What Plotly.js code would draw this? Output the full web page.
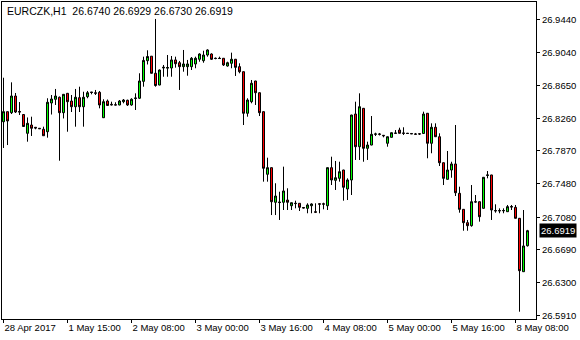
<!DOCTYPE html>
<html><head><meta charset="utf-8">
<script src="https://cdn.plot.ly/plotly-3.0.1.min.js"></script>
<style>html,body{margin:0;padding:0;background:#fff;}#chart{width:580px;height:340px;}</style>
</head><body><div id="chart"></div>
<script>
const symbol = "EURCZK,H1";
const openP = [
26.8219,26.8339,26.8327,26.8526,26.8341,26.8305,26.8081,26.8180,26.8153,26.8141,
26.8129,26.8100,26.8443,26.8487,26.8511,26.8327,26.8558,26.8466,26.8398,26.8506,
26.8398,26.8518,26.8574,26.8564,26.8570,26.8267,26.8466,26.8427,26.8421,26.8419,
26.8458,26.8475,26.8419,26.8496,26.8499,26.8701,26.8947,26.9001,26.8797,26.8657,
26.8860,26.8858,26.8860,26.8956,26.8923,26.8876,26.8876,26.8876,26.8908,26.8964,
26.8947,26.9015,26.9027,26.8977,26.8976,26.8976,26.8884,26.8916,26.8964,26.8876,
26.8816,26.8320,26.8458,26.8705,26.8565,26.8339,26.7592,26.7671,26.7258,26.7262,
26.7258,26.7285,26.7217,26.7247,26.7246,26.7196,26.7186,26.7217,26.7145,26.7240,
26.7240,26.7217,26.7671,26.7520,26.7544,26.7643,26.7417,26.7524,26.8311,26.7921,
26.8379,26.7902,26.7941,26.8069,26.8073,26.8057,26.7962,26.8033,26.8085,26.8120,
26.8085,26.8082,26.8079,26.8073,26.8075,26.8079,26.8320,26.7962,26.8153,26.8040,
26.7730,26.7532,26.7643,26.7715,26.7365,26.7174,26.7015,26.6979,26.7264,26.7265,
26.7186,26.7578,26.7584,26.7160,26.7160,26.7156,26.7146,26.7208,26.7198,26.7067,
26.6430,26.6740];
const highP = [
26.8744,26.8339,26.8689,26.8562,26.8454,26.8311,26.8270,26.8279,26.8156,26.8144,
26.8160,26.8499,26.8538,26.8610,26.8520,26.8550,26.8562,26.8538,26.8610,26.8637,
26.8577,26.8586,26.8574,26.8598,26.8586,26.8487,26.8484,26.8458,26.8451,26.8478,
26.8490,26.8482,26.8499,26.8558,26.8797,26.8995,26.9071,26.9003,26.9445,26.8842,
26.8896,26.9015,26.9003,26.8995,26.8944,26.9075,26.8956,26.8991,26.8995,26.9035,
26.9066,26.9083,26.9035,26.8985,26.8995,26.8979,26.8935,26.9043,26.8968,26.8916,
26.8818,26.8499,26.8717,26.8707,26.8568,26.8341,26.7790,26.7673,26.7485,26.7384,
26.7683,26.7425,26.7255,26.7277,26.7249,26.7198,26.7246,26.7246,26.7246,26.7246,
26.7253,26.7673,26.7802,26.7751,26.7742,26.7646,26.7544,26.8302,26.8458,26.8558,
26.8383,26.7981,26.8287,26.8088,26.8085,26.8058,26.8043,26.8091,26.8120,26.8148,
26.8153,26.8085,26.8081,26.8085,26.8078,26.8339,26.8323,26.8200,26.8200,26.8081,
26.7733,26.7870,26.7742,26.8180,26.7444,26.7178,26.7047,26.7464,26.7345,26.7268,
26.7560,26.7631,26.7586,26.7234,26.7186,26.7186,26.7226,26.7226,26.7226,26.7071,
26.7166,26.6929];
const lowP = [
26.7906,26.7941,26.8311,26.8323,26.8299,26.8160,26.7981,26.8049,26.8129,26.8132,
26.8052,26.8029,26.8305,26.8419,26.7754,26.8258,26.8100,26.8335,26.8160,26.8335,
26.8160,26.8499,26.8546,26.8538,26.8379,26.8264,26.8407,26.8413,26.8416,26.8415,
26.8439,26.8407,26.8410,26.8359,26.8490,26.8637,26.8902,26.8794,26.8637,26.8654,
26.8756,26.8756,26.8756,26.8864,26.8598,26.8816,26.8768,26.8836,26.8857,26.8935,
26.8923,26.8995,26.8956,26.8964,26.8972,26.8884,26.8876,26.8857,26.8765,26.8797,
26.8180,26.8279,26.8439,26.8419,26.8287,26.7504,26.7504,26.7106,26.7106,26.7047,
26.7166,26.7166,26.7166,26.7186,26.7154,26.7186,26.7127,26.7127,26.7130,26.7127,
26.7174,26.7166,26.7464,26.7405,26.7504,26.7277,26.7285,26.7345,26.7763,26.7763,
26.7742,26.7763,26.7938,26.8049,26.8055,26.8033,26.7921,26.8031,26.8079,26.8079,
26.8061,26.8076,26.8073,26.8069,26.8061,26.8073,26.7783,26.7843,26.8037,26.7691,
26.7464,26.7529,26.7551,26.7333,26.7134,26.6919,26.6919,26.6967,26.7255,26.7027,
26.7183,26.7544,26.7047,26.7134,26.7127,26.7127,26.7142,26.7166,26.7065,26.5953,
26.6427,26.6730];
const closeP = [
26.8339,26.8228,26.8526,26.8335,26.8335,26.8162,26.8200,26.8141,26.8144,26.8136,
26.8052,26.8451,26.8490,26.8526,26.8327,26.8546,26.8458,26.8398,26.8511,26.8398,
26.8511,26.8565,26.8568,26.8559,26.8419,26.8458,26.8413,26.8421,26.8419,26.8466,
26.8478,26.8419,26.8487,26.8502,26.8705,26.8950,26.8997,26.8797,26.8651,26.8836,
26.8868,26.8866,26.8956,26.8911,26.8876,26.8908,26.8908,26.8976,26.8976,26.9027,
26.9015,26.9075,26.8964,26.8973,26.8973,26.8896,26.8923,26.8964,26.8868,26.8816,
26.8320,26.8478,26.8678,26.8565,26.8327,26.7664,26.7671,26.7265,26.7333,26.7255,
26.7393,26.7258,26.7253,26.7243,26.7198,26.7190,26.7226,26.7238,26.7140,26.7236,
26.7236,26.7671,26.7524,26.7551,26.7623,26.7437,26.7524,26.8299,26.7921,26.8398,
26.7902,26.7941,26.8069,26.8073,26.8069,26.8052,26.8040,26.8088,26.8081,26.8081,
26.8081,26.8079,26.8075,26.8070,26.8073,26.8311,26.7962,26.8153,26.8040,26.7730,
26.7544,26.7643,26.7715,26.7372,26.7174,26.7015,26.6979,26.7265,26.7262,26.7086,
26.7556,26.7584,26.7166,26.7156,26.7156,26.7160,26.7206,26.7202,26.7067,26.6442,
26.6737,26.6919];
const xTickBars = [0,16,32,48,64,80,96,112,128];
const xTickLabels = ["28 Apr 2017","1 May 15:00","2 May 08:00","3 May 00:00","3 May 16:00","4 May 08:00","5 May 00:00","5 May 16:00","8 May 08:00"];
const yTicks = [26.9440,26.9040,26.8650,26.8260,26.7870,26.7480,26.7080,26.6690,26.6300,26.5910];

const barIdx = openP.map((_, i) => i);
const last = openP.length - 1;
const fmt = v => v.toFixed(4);
const header = symbol + "\u00a0\u00a0" + [openP[last], highP[last], lowP[last], closeP[last]].map(fmt).join("\u00a0");

const trace = {
  type: 'candlestick',
  x: barIdx, open: openP, high: highP, low: lowP, close: closeP,
  increasing: {line: {color: '#000000', width: 1}, fillcolor: '#00ff00'},
  decreasing: {line: {color: '#000000', width: 1}, fillcolor: '#ff0000'},
  whiskerwidth: 0,
  hoverinfo: 'skip'
};
const font = {family: 'Liberation Sans, Arial, sans-serif', size: 9.5, color: '#000000'};
const layout = {
  width: 580, height: 340,
  margin: {l: 2, r: 44, t: 2, b: 21, pad: 0},
  paper_bgcolor: '#ffffff', plot_bgcolor: '#ffffff',
  showlegend: false,
  boxgap: 0, boxgroupgap: 0.5,
  font: font,
  xaxis: {
    range: [-0.375, 133.125], showgrid: false, zeroline: false,
    showline: true, mirror: true, linecolor: '#000000', linewidth: 1,
    ticks: 'outside', ticklen: 3, tickcolor: '#000000', tickwidth: 1,
    tickmode: 'array', tickvals: xTickBars, ticktext: xTickLabels,
    ticklabelposition: 'outside right',
    rangeslider: {visible: false}, fixedrange: true, tickfont: font
  },
  yaxis: {
    side: 'right', range: [26.58658, 26.96473],
    tickmode: 'array', tickvals: yTicks, tickformat: '.4f',
    showgrid: false, zeroline: false,
    showline: true, mirror: true, linecolor: '#000000', linewidth: 1,
    ticks: 'outside', ticklen: 3, tickcolor: '#000000', tickwidth: 1,
    fixedrange: true, tickfont: font
  },
  annotations: [
    {xref: 'paper', yref: 'paper', x: 0, y: 1, xanchor: 'left', yanchor: 'top',
     xshift: 3, yshift: -1, text: header, showarrow: false,
     font: {family: font.family, size: 10.5, color: '#000000'}},
    {xref: 'paper', yref: 'y', x: 1, y: closeP[last], xanchor: 'left', yanchor: 'middle',
     xshift: 3, text: fmt(closeP[last]), showarrow: false, bgcolor: '#000000', borderpad: 1,
     font: {family: font.family, size: 9.5, color: '#ffffff'}}
  ]
};
Plotly.newPlot('chart', [trace], layout, {staticPlot: true, displayModeBar: false});
</script>
</body></html>
